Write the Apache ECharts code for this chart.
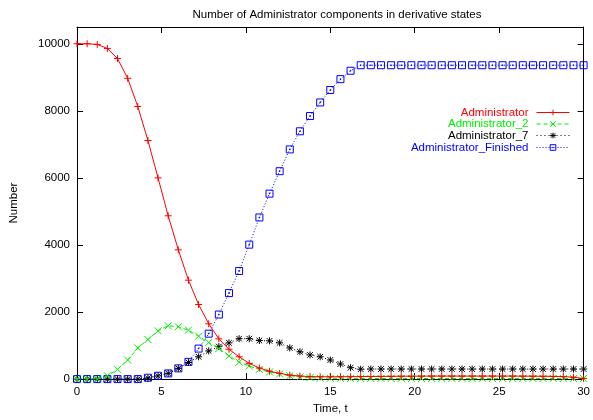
<!DOCTYPE html>
<html>
<head>
<meta charset="utf-8">
<script src="https://cdn.jsdelivr.net/npm/echarts@6/dist/echarts.min.js"></script>
<style>
html,body{margin:0;padding:0;background:#fff;}
#chart{width:593px;height:420px;}
</style>
</head>
<body>
<div id="chart"></div>
<script>
const titleText = 'Number of Administrator components in derivative states';
const xName = 'Time, t';
const yName = 'Number';
const seriesNames = ['Administrator', 'Administrator_2', 'Administrator_7', 'Administrator_Finished'];

const times = [0,0.6,1.2,1.8,2.4,3,3.6,4.2,4.8,5.4,6,6.6,7.2,7.8,8.4,9,9.6,10.2,10.8,11.4,12,12.6,13.2,13.8,14.4,15,15.6,16.2,16.8,17.4,18,18.6,19.2,19.8,20.4,21,21.6,22.2,22.8,23.4,24,24.6,25.2,25.8,26.4,27,27.6,28.2,28.8,29.4,30];

const administrator = [10000,10000,9980,9860,9560,8970,8130,7115,6000,4870,3855,2950,2225,1650,1200,890,665,470,330,235,170,120,90,75,70,
  70,70,72,75,78,80,82,85,86,88,90,90,90,90,90,90,90,90,90,88,86,84,80,75,55,20];

const administrator2 = [0,0,0,100,290,570,930,1180,1440,1590,1560,1460,1280,1090,910,690,505,390,290,213,155,100,65,45,30,
  25,20,20,18,18,18,18,18,18,18,18,18,18,18,18,18,18,18,18,18,18,18,18,18,18,18];

const administrator7 = [0,0,0,0,0,0,0,30,95,170,320,495,665,840,970,1080,1205,1205,1150,1140,1080,930,815,720,665,570,450,340,295,
  300,300,300,300,300,300,300,300,300,300,300,300,300,300,300,300,300,300,300,300,300,300];

const administratorFinished = [0,0,0,0,0,0,0,40,100,170,320,515,910,1355,1925,2565,3225,4010,4820,5530,6200,6850,7390,7845,8250,8620,8945,9195,9360,
  9360,9360,9360,9360,9360,9360,9360,9360,9360,9360,9360,9360,9360,9360,9360,9360,9360,9360,9360,9360,9360,9360];

const xTicks = {min: 0, max: 30, interval: 5};
const yTicks = {min: 0, max: 10500, interval: 2000};

const colors = ['#ff0000', '#00ee00', '#000000', '#0000ff'];
const dashes = ['solid', [4, 3], [1, 3], [1, 2]];
const symbols = [
  'path://M0,5L10,5M5,0L5,10',
  'path://M0,0L10,10M10,0L0,10',
  'path://M0,5L10,5M5,0L5,10M1,1L9,9M9,1L1,9',
  'path://M0,0L10,0L10,10L0,10ZM4.5,4.5L5.5,4.5L5.5,5.5L4.5,5.5Z'
];
const values = [administrator, administrator2, administrator7, administratorFinished];
const legendRows = [106.5, 118, 129.5, 141.5];

const FONT = 'Liberation Sans, Arial, Helvetica, sans-serif';

const series = values.map((vals, i) => ({
  name: seriesNames[i],
  type: 'line',
  data: times.map((t, k) => [t, vals[k]]),
  symbol: symbols[i],
  symbolSize: 7,
  showSymbol: true,
  showAllSymbol: true,
  smooth: false,
  z: 10 - i,
  lineStyle: {color: colors[i], width: 1, type: dashes[i]},
  itemStyle: {color: 'rgba(0,0,0,0)', borderColor: colors[i], borderWidth: 1},
  emphasis: {disabled: true}
}));

const legends = seriesNames.map((n, i) => ({
  data: [{name: n, textStyle: {color: colors[i]}}],
  right: 23,
  top: legendRows[i],
  padding: 0,
  align: 'right',
  itemWidth: 33,
  itemHeight: 7,
  selectedMode: false,
  textStyle: {fontFamily: FONT, fontSize: 11.5, lineHeight: 12, color: colors[i], padding: [0, 3, 0, 0]},
  itemStyle: {borderWidth: 1, borderColor: colors[i], color: 'rgba(0,0,0,0)'},
  lineStyle: {width: 1, color: colors[i], type: dashes[i]}
}));

const axisCommon = {
  axisLine: {show: true, onZero: false, lineStyle: {color: '#000', width: 1}},
  axisTick: {show: true, inside: true, length: 6, lineStyle: {color: '#000', width: 1}},
  splitLine: {show: false}
};

const chart = echarts.init(document.getElementById('chart'), null, {renderer: 'canvas'});
chart.setOption({
  animation: false,
  backgroundColor: '#fff',
  title: {
    text: titleText,
    left: 332,
    top: 4,
    textAlign: 'center',
    textStyle: {fontFamily: FONT, fontSize: 11.5, fontWeight: 'normal', color: '#000'}
  },
  legend: legends,
  grid: {left: 74, right: 5, top: 27, bottom: 38, containLabel: false},
  xAxis: [
    Object.assign({
      type: 'value', position: 'bottom', min: xTicks.min, max: xTicks.max, interval: xTicks.interval,
      name: xName, nameLocation: 'middle', nameGap: 23,
      nameTextStyle: {fontFamily: FONT, fontSize: 11.5, color: '#000'},
      axisLabel: {fontFamily: FONT, fontSize: 11.5, color: '#000', margin: 7}
    }, axisCommon),
    Object.assign({
      type: 'value', position: 'top', min: xTicks.min, max: xTicks.max, interval: xTicks.interval,
      axisLabel: {show: false}
    }, axisCommon)
  ],
  yAxis: [
    Object.assign({
      type: 'value', position: 'left', min: yTicks.min, max: yTicks.max, interval: yTicks.interval,
      name: yName, nameLocation: 'middle', nameGap: 57, nameRotate: 90,
      nameTextStyle: {fontFamily: FONT, fontSize: 11.5, color: '#000'},
      axisLabel: {fontFamily: FONT, fontSize: 11.5, color: '#000', margin: 7,
        formatter: v => (v % yTicks.interval === 0 ? String(v) : '')}
    }, axisCommon),
    Object.assign({
      type: 'value', position: 'right', min: yTicks.min, max: yTicks.max, interval: yTicks.interval,
      axisLabel: {show: false}
    }, axisCommon)
  ],
  series: series
});
</script>
</body>
</html>
